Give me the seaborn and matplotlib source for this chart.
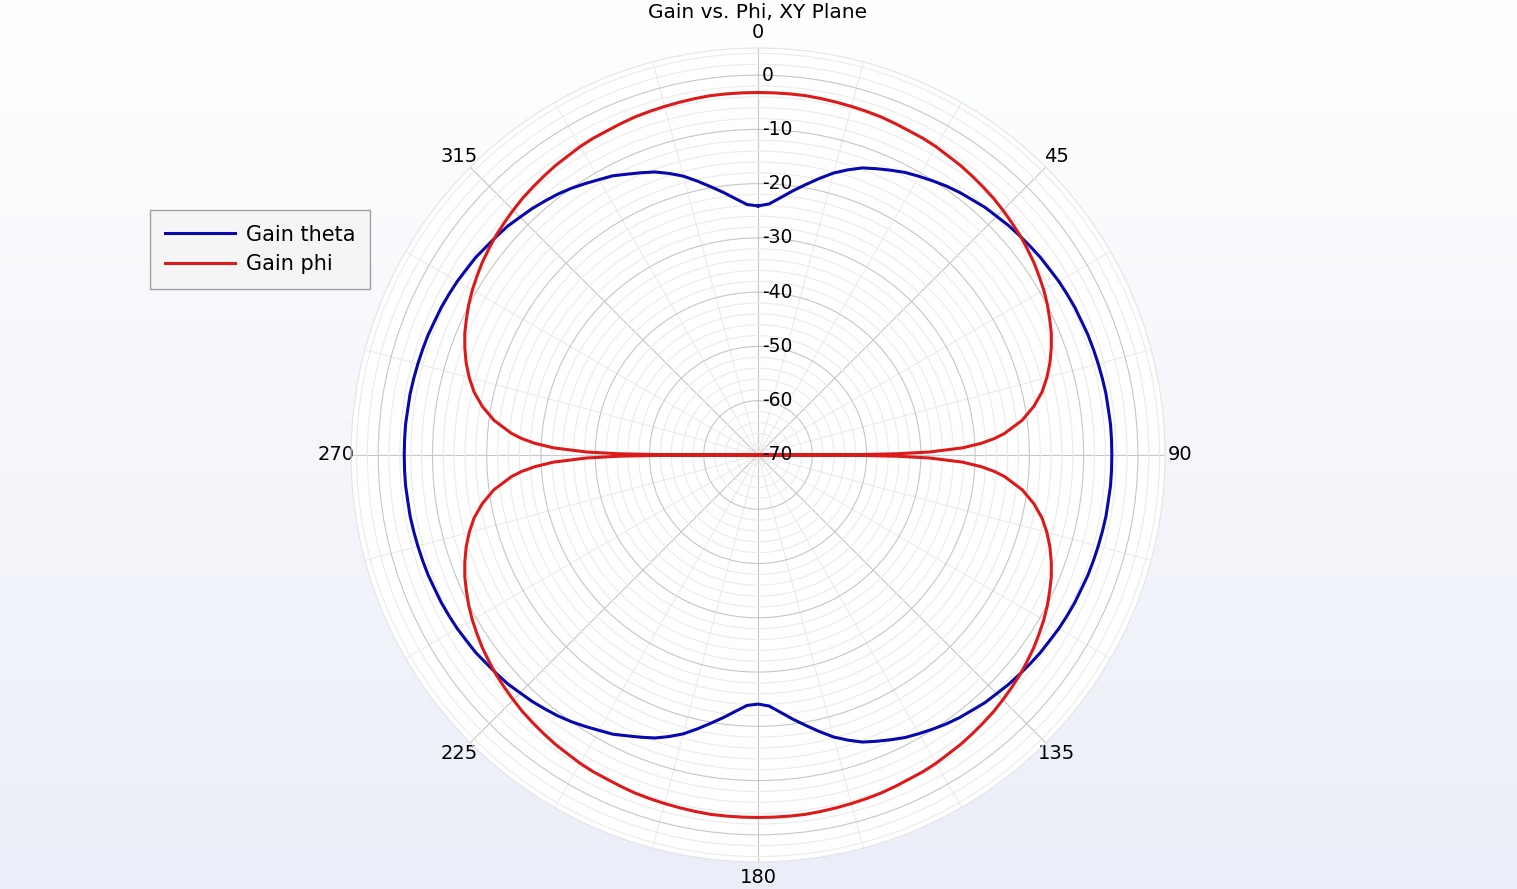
import numpy as np
import pandas as pd
import matplotlib
matplotlib.use("Agg")
import matplotlib.pyplot as plt
import matplotlib.transforms as mtransforms
import seaborn as sns
from matplotlib.lines import Line2D

# ======================================
# DATA
# ======================================
TITLE = "Gain vs. Phi, XY Plane"
STEP = 2.5  # degrees between read points

# Gain theta, right half, from 0 deg (top) down to 90 deg; mirrored about 90
gain_theta_right_q = [
    -24.1, -23.7, -22.4, -20.9, -19.4, -17.8, -16.2, -14.9, -13.7, -12.9,
    -12.1, -11.3, -10.7, -10.1, -9.5, -9.0, -8.6, -8.1, -7.8, -7.4,
    -7.1, -6.8, -6.5, -6.3, -6.0, -5.8, -5.6, -5.5, -5.3, -5.2,
    -5.1, -5.0, -4.9, -4.9, -4.8, -4.8, -4.8,
]
# Gain theta, left half, from 180 deg round to 270 deg; mirrored about 270
gain_theta_left_q = [
    -24.1, -23.8, -22.6, -21.2, -19.8, -18.3, -16.8, -15.6, -14.5, -13.7,
    -12.9, -12.0, -11.4, -10.7, -10.0, -9.4, -8.9, -8.4, -8.0, -7.5,
    -7.2, -6.9, -6.5, -6.3, -6.0, -5.8, -5.6, -5.5, -5.3, -5.2,
    -5.1, -5.0, -4.9, -4.9, -4.8, -4.8, -4.8,
]

# Gain phi, one quarter from 0 deg to the null at 90 deg (same in all quarters)
phi_q_angles = [
    0, 2.5, 5, 7.5, 10, 12.5, 15, 17.5, 20, 22.5, 25, 27.5, 30, 32.5, 35,
    37.5, 40, 42.5, 45, 47.5, 50, 52.5, 55, 57.5, 60, 62.5, 65, 67.5, 70,
    72.5, 75, 77.5, 80, 82.5, 85, 86, 87, 88, 89, 89.5, 89.8, 90,
]
gain_phi_q = [
    -3.2, -3.2, -3.2, -3.2, -3.3, -3.4, -3.5, -3.6, -3.7, -3.9, -4.1, -4.2,
    -4.4, -4.7, -4.9, -5.2, -5.5, -5.8, -6.2, -6.6, -7.0, -7.5, -8.0, -8.6,
    -9.2, -9.9, -10.7, -11.5, -12.5, -13.6, -14.9, -16.4, -18.4, -20.9,
    -24.4, -26.3, -28.8, -32.3, -38.4, -44.4, -52.3, -70.0,
]

SERIES = ["Gain theta", "Gain phi"]
COLORS = {"Gain theta": "#0808ae", "Gain phi": "#dc1a1a"}

R_MIN, R_MAX = -70, 5
r_major = list(range(-70, 1, 10))
r_minor = list(range(-70, 5, 2))
angle_major = list(range(0, 360, 45))
angle_minor = list(range(0, 360, 15))

# ======================================
# BUILD FULL-CIRCLE SERIES
# ======================================
theta_angles = np.arange(0, 360 + STEP / 2, STEP)
theta_vals = (gain_theta_right_q + gain_theta_right_q[::-1][1:]
              + gain_theta_left_q[1:] + gain_theta_left_q[::-1][1:])

qa = np.array(phi_q_angles)
qv = list(gain_phi_q)
phi_angles = np.concatenate([qa, 180 - qa[::-1][1:], 180 + qa[1:], 360 - qa[::-1][1:]])
phi_vals = qv + qv[::-1][1:] + qv[1:] + qv[::-1][1:]

df = pd.concat([
    pd.DataFrame({"phi": np.deg2rad(theta_angles), "gain": theta_vals, "series": SERIES[0]}),
    pd.DataFrame({"phi": np.deg2rad(phi_angles), "gain": phi_vals, "series": SERIES[1]}),
], ignore_index=True)

# ======================================
# FIGURE
# ======================================
fig = plt.figure(figsize=(15.17, 8.89), dpi=100)

# soft vertical gradient behind everything
bg = fig.add_axes([0, 0, 1, 1], zorder=0)
grad = np.linspace(0, 1, 256).reshape(-1, 1)
top = np.array([255, 255, 255]) / 255
bottom = np.array([235, 238, 248]) / 255
img = top + (bottom - top) * grad[:, :, None]
bg.imshow(img, aspect="auto", extent=[0, 1, 0, 1])
bg.axis("off")

ax = fig.add_axes([0.2314, 0.0304, 0.5366, 0.9156], projection="polar", zorder=1)
ax.set_facecolor("white")

sns.lineplot(
    data=df, x="phi", y="gain", hue="series", hue_order=SERIES,
    palette=COLORS, sort=False, estimator=None, legend=False,
    linewidth=2.2, ax=ax,
)
for line in ax.get_lines():
    line.set_solid_joinstyle("round")

ax.set_theta_zero_location("N")
ax.set_theta_direction(-1)
ax.set_ylim(R_MIN, R_MAX)

ax.set_yticks(r_major)
ax.set_yticklabels([])
ax.set_yticks(r_minor, minor=True)
ax.set_xticks(np.deg2rad(angle_major))
ax.set_xticklabels([str(a) for a in angle_major])
ax.set_xticks(np.deg2rad(angle_minor), minor=True)

ax.grid(which="major", color="#c6c6c6", linewidth=0.8)
ax.grid(which="minor", color="#ebebeb", linewidth=0.8)
ax.set_axisbelow(True)
ax.spines["polar"].set_color("#e4e4e4")
ax.tick_params(which="both", length=0)
ax.tick_params(axis="x", labelsize=14, pad=4)
ax.set_xlabel("")
ax.set_ylabel("")

# radial labels along the 0 deg spoke, centred on their rings
shift = mtransforms.ScaledTranslation(4 / 100, 0, fig.dpi_scale_trans)
for v in r_major:
    ax.text(0, v, str(v), ha="left", va="center", fontsize=13.5,
            transform=ax.transData + shift, zorder=5)

fig.text(0.4995, 1 - 13 / 889, TITLE, ha="center", va="center", fontsize=14.5)

handles = [Line2D([], [], color=COLORS[s], linewidth=2.2) for s in SERIES]
fig.legend(
    handles, SERIES, loc="upper left",
    bbox_to_anchor=(150 / 1517, 1 - 210 / 889),
    fontsize=15, frameon=True, fancybox=False, framealpha=1,
    facecolor="#f5f5f5", edgecolor="#a0a0a0",
    handlelength=3.4, handletextpad=0.5, borderaxespad=0,
    borderpad=0.7, labelspacing=0.45,
)

fig.savefig("out.png", dpi=100)
